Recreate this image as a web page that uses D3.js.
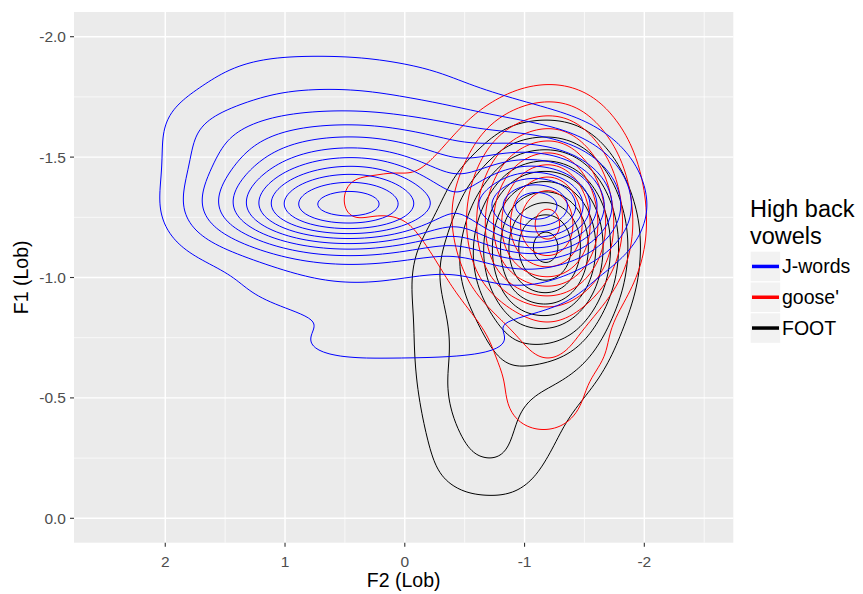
<!DOCTYPE html>
<html>
<head>
<meta charset="utf-8">
<script src="https://cdn.jsdelivr.net/npm/d3@7"></script>
<style>
  body { margin: 0; background: #ffffff; }
  svg { display: block; }
  text { font-family: Arial, "Liberation Sans", sans-serif; }
</style>
</head>
<body>
<svg id="chart" width="863" height="594"></svg>
<script>
// Binned token counts per lexical set: F2 bin centres, F1 bin centres, relative weights (rows = F1)
const jWordsF2 = [1.92, 1.63, 1.33, 1.04, 0.75, 0.46, 0.17, -0.13, -0.42, -0.71, -1.00, -1.30, -1.59, -1.88];
const jWordsF1 = [-1.92, -1.82, -1.675, -1.57, -1.467, -1.364, -1.26, -1.135, -0.948, -0.72];
const jWordsWeights = [
  [0,   .02, .04, .05, .05, .05, .04, .03, .02, 0,   0,   0,   0,   0  ],
  [.04, .08, .12, .14, .14, .14, .13, .11, .08, .05, .03, .01, 0,   0  ],
  [.10, .14, .17, .19, .20, .20, .20, .18, .15, .12, .08, .05, .02, 0  ],
  [.09, .16, .22, .27, .31, .32, .31, .28, .25, .22, .20, .15, .07, .01],
  [.08, .16, .25, .35, .42, .45, .44, .36, .28, .30, .42, .38, .18, .03],
  [.08, .20, .34, .52, .66, .70, .67, .50, .34, .45, .82, .76, .34, .05],
  [.10, .25, .45, .72, .95, 1.0, .95, .70, .40, .60, 1.12, 1.05, .45, .06],
  [.06, .12, .17, .26, .33, .35, .33, .28, .24, .34, .52, .46, .20, .03],
  [.03, .06, .10, .15, .18, .19, .19, .18, .17, .18, .20, .16, .06, 0  ],
  [0,   0,   .02, .08, .14, .16, .16, .16, .15, .14, .11, .05, 0,   0  ]
];

const gooseF2 = [0.50, 0.21, -0.04, -0.34, -0.63, -0.84, -1.05, -1.26, -1.46, -1.67, -1.88];
const gooseF1 = [-1.778, -1.675, -1.571, -1.467, -1.364, -1.26, -1.156, -1.052, -0.948, -0.824, -0.679, -0.512, -0.388];
const gooseWeights = [
  [0,   0,   0,   0,   0,   .03, .07, .08, .05, .02, 0  ],
  [0,   0,   .03, .05, .08, .15, .22, .24, .18, .07, .01],
  [.02, .07, .08, .09, .15, .28, .37, .39, .31, .16, .04],
  [.10, .09, .09, .11, .22, .42, .54, .56, .45, .27, .07],
  [.15, .11, .10, .15, .30, .53, .70, .73, .57, .35, .11],
  [.15, .10, .10, .16, .33, .60, .83, .89, .65, .39, .14],
  [.09, .06, .09, .14, .33, .60, .82, .88, .65, .39, .13],
  [0,   0,   .06, .10, .28, .50, .65, .67, .53, .32, .08],
  [0,   0,   0,   .06, .18, .34, .44, .46, .36, .19, .03],
  [0,   0,   0,   0,   .07, .18, .26, .27, .20, .10, .01],
  [0,   0,   0,   0,   .03, .16, .24, .24, .20, .12, .04],
  [0,   0,   0,   0,   0,   .12, .20, .20, .12, .04, 0  ],
  [0,   0,   0,   0,   0,   .06, .13, .13, .06, 0,   0  ]
];

const footF2 = [-0.04, -0.29, -0.55, -0.80, -1.00, -1.21, -1.42, -1.63, -1.84];
const footF1 = [-1.633, -1.53, -1.426, -1.322, -1.218, -1.115, -1.011, -0.907, -0.783, -0.658, -0.533, -0.408, -0.284, -0.159];
const footWeights = [
  [0,   0,   0,   .03, .05, .06, .05, .02, 0  ],
  [0,   0,   .03, .12, .20, .23, .18, .06, 0  ],
  [0,   .02, .13, .30, .39, .43, .37, .20, .02],
  [0,   .05, .25, .45, .58, .64, .55, .33, .07],
  [.02, .10, .32, .55, .73, .85, .69, .42, .13],
  [.07, .18, .34, .58, .78, .95, .73, .43, .14],
  [.08, .19, .31, .54, .70, .80, .66, .40, .12],
  [.09, .18, .30, .45, .58, .64, .55, .33, .07],
  [.09, .20, .27, .36, .41, .46, .39, .22, .03],
  [.08, .22, .25, .28, .29, .27, .22, .12, 0  ],
  [.05, .24, .27, .23, .17, .16, .12, .05, 0  ],
  [.02, .21, .27, .22, .16, .12, .07, .02, 0  ],
  [0,   .16, .24, .22, .15, .10, .05, 0,   0  ],
  [0,   .12, .22, .22, .12, .05, 0,   0,   0  ]
];

const groupNames = ["J-words", "goose'", "FOOT"];
const groupColors = ["#0000FF", "#FF0000", "#000000"];
const groupBins = [
  [jWordsF2, jWordsF1, jWordsWeights],
  [gooseF2, gooseF1, gooseWeights],
  [footF2, footF1, footWeights]
];
// kernel sd (F2, F1), number of contour levels and level headroom for each set
const groupBandwidth = [[0.25, 0.091], [0.184, 0.091], [0.167, 0.10]];
const groupLevels = [11, 10, 10];
const groupHeadroom = [0.8, 0.3, 0.3];
// painting order of the contour layers (FOOT underneath, J-words on top)
const drawOrder = [2, 1, 0];

const xTicks = [2, 1, 0, -1, -2];
const xMinor = [1.5, 0.5, -0.5, -1.5, -2.5];
const yTicks = [-2.0, -1.5, -1.0, -0.5, 0.0];
const yMinor = [-1.75, -1.25, -0.75, -0.25];

const svg = d3.select("#chart");
const panel = { left: 74, right: 733.3, top: 12, bottom: 542.7 };

const x = d3.scaleLinear().domain([2.762, -2.743]).range([panel.left, panel.right]);
const y = d3.scaleLinear().domain([-2.1026, 0.1013]).range([panel.top, panel.bottom]);

// panel background
svg.append("rect")
  .attr("x", panel.left).attr("y", panel.top)
  .attr("width", panel.right - panel.left).attr("height", panel.bottom - panel.top)
  .attr("fill", "#EBEBEB");

const grid = svg.append("g");
xMinor.forEach(v => grid.append("line")
  .attr("x1", x(v)).attr("x2", x(v)).attr("y1", panel.top).attr("y2", panel.bottom)
  .attr("stroke", "#fff").attr("stroke-width", 0.7));
yMinor.forEach(v => grid.append("line")
  .attr("y1", y(v)).attr("y2", y(v)).attr("x1", panel.left).attr("x2", panel.right)
  .attr("stroke", "#fff").attr("stroke-width", 0.7));
xTicks.forEach(v => grid.append("line")
  .attr("x1", x(v)).attr("x2", x(v)).attr("y1", panel.top).attr("y2", panel.bottom)
  .attr("stroke", "#fff").attr("stroke-width", 1.4));
yTicks.forEach(v => grid.append("line")
  .attr("y1", y(v)).attr("y2", y(v)).attr("x1", panel.left).attr("x2", panel.right)
  .attr("stroke", "#fff").attr("stroke-width", 1.4));

svg.append("clipPath").attr("id", "panel-clip").append("rect")
  .attr("x", panel.left).attr("y", panel.top)
  .attr("width", panel.right - panel.left).attr("height", panel.bottom - panel.top);

// 2D kernel density on a pixel grid, then contour lines at equally spaced levels
const cell = 2;
const nx = Math.ceil((panel.right - panel.left) / cell) + 1;
const ny = Math.ceil((panel.bottom - panel.top) / cell) + 1;

function densityGrid([f2s, f1s, weights], bw) {
  const values = new Float64Array(nx * ny);
  const sx = Math.abs(x(bw[0]) - x(0));
  const sy = Math.abs(y(bw[1]) - y(0));
  const gx = new Float64Array(nx), gy = new Float64Array(ny);
  weights.forEach((row, r) => row.forEach((w, c) => {
    if (!w) return;
    const cx = x(f2s[c]), cy = y(f1s[r]);
    for (let i = 0; i < nx; i++) {
      const d = (panel.left + i * cell - cx) / sx;
      gx[i] = Math.exp(-0.5 * d * d);
    }
    for (let j = 0; j < ny; j++) {
      const d = (panel.top + j * cell - cy) / sy;
      gy[j] = Math.exp(-0.5 * d * d);
    }
    for (let j = 0; j < ny; j++) {
      const a = w * gy[j];
      if (a < 1e-9) continue;
      const base = j * nx;
      for (let i = 0; i < nx; i++) values[base + i] += a * gx[i];
    }
  }));
  return values;
}

const toPanel = d3.geoTransform({
  point(px, py) {
    this.stream.point(panel.left + (px - 0.5) * cell, panel.top + (py - 0.5) * cell);
  }
});
const path = d3.geoPath(toPanel);

const contourLayer = svg.append("g").attr("clip-path", "url(#panel-clip)");

drawOrder.forEach(k => {
  const values = densityGrid(groupBins[k], groupBandwidth[k]);
  const max = d3.max(values);
  const n = groupLevels[k];
  const step = max / (n + groupHeadroom[k]);
  const levels = d3.range(1, n + 1).map(i => i * step);
  const contours = d3.contours().size([nx, ny]).thresholds(levels)(values);
  contourLayer.append("g")
    .selectAll("path")
    .data(contours)
    .join("path")
    .attr("d", path)
    .attr("fill", "none")
    .attr("stroke", groupColors[k])
    .attr("stroke-width", 1)
    .attr("stroke-linejoin", "round");
});

// axes
const axisColor = "#333333";
const labelColor = "#4D4D4D";
const xAxis = svg.append("g");
xTicks.forEach(v => {
  xAxis.append("line").attr("x1", x(v)).attr("x2", x(v))
    .attr("y1", panel.bottom).attr("y2", panel.bottom + 4)
    .attr("stroke", axisColor).attr("stroke-width", 1.1);
  xAxis.append("text").attr("x", x(v)).attr("y", 566.5)
    .attr("text-anchor", "middle").attr("font-size", 15.5).attr("fill", labelColor)
    .text(d3.format("d")(v).replace("−", "-"));
});
const yAxis = svg.append("g");
yTicks.forEach(v => {
  yAxis.append("line").attr("x1", panel.left - 4).attr("x2", panel.left)
    .attr("y1", y(v)).attr("y2", y(v))
    .attr("stroke", axisColor).attr("stroke-width", 1.1);
  yAxis.append("text").attr("x", 66).attr("y", y(v)).attr("dy", "0.36em")
    .attr("text-anchor", "end").attr("font-size", 15.5).attr("fill", labelColor)
    .text(d3.format(".1f")(v).replace("−", "-"));
});

svg.append("text").attr("x", (panel.left + panel.right) / 2).attr("y", 587)
  .attr("text-anchor", "middle").attr("font-size", 19.5).attr("fill", "#000")
  .text("F2 (Lob)");
svg.append("text")
  .attr("transform", `translate(28,${(panel.top + panel.bottom) / 2}) rotate(-90)`)
  .attr("text-anchor", "middle").attr("font-size", 19.5).attr("fill", "#000")
  .text("F1 (Lob)");

// legend
const legend = svg.append("g");
legend.append("text").attr("x", 750).attr("y", 217).attr("font-size", 23.5).attr("fill", "#000").text("High back");
legend.append("text").attr("x", 750).attr("y", 243.5).attr("font-size", 23.5).attr("fill", "#000").text("vowels");
groupNames.forEach((name, k) => {
  const top = 251.7 + k * 30.8;
  legend.append("rect").attr("x", 750.7).attr("y", top).attr("width", 29.5).attr("height", 29.5)
    .attr("fill", "#F2F2F2");
  legend.append("line").attr("x1", 752).attr("x2", 779).attr("y1", top + 14.75).attr("y2", top + 14.75)
    .attr("stroke", groupColors[k]).attr("stroke-width", 3.5);
  legend.append("text").attr("x", 782).attr("y", top + 14.75).attr("dy", "0.36em")
    .attr("font-size", 19.5).attr("fill", "#000").text(name);
});
</script>
</body>
</html>
